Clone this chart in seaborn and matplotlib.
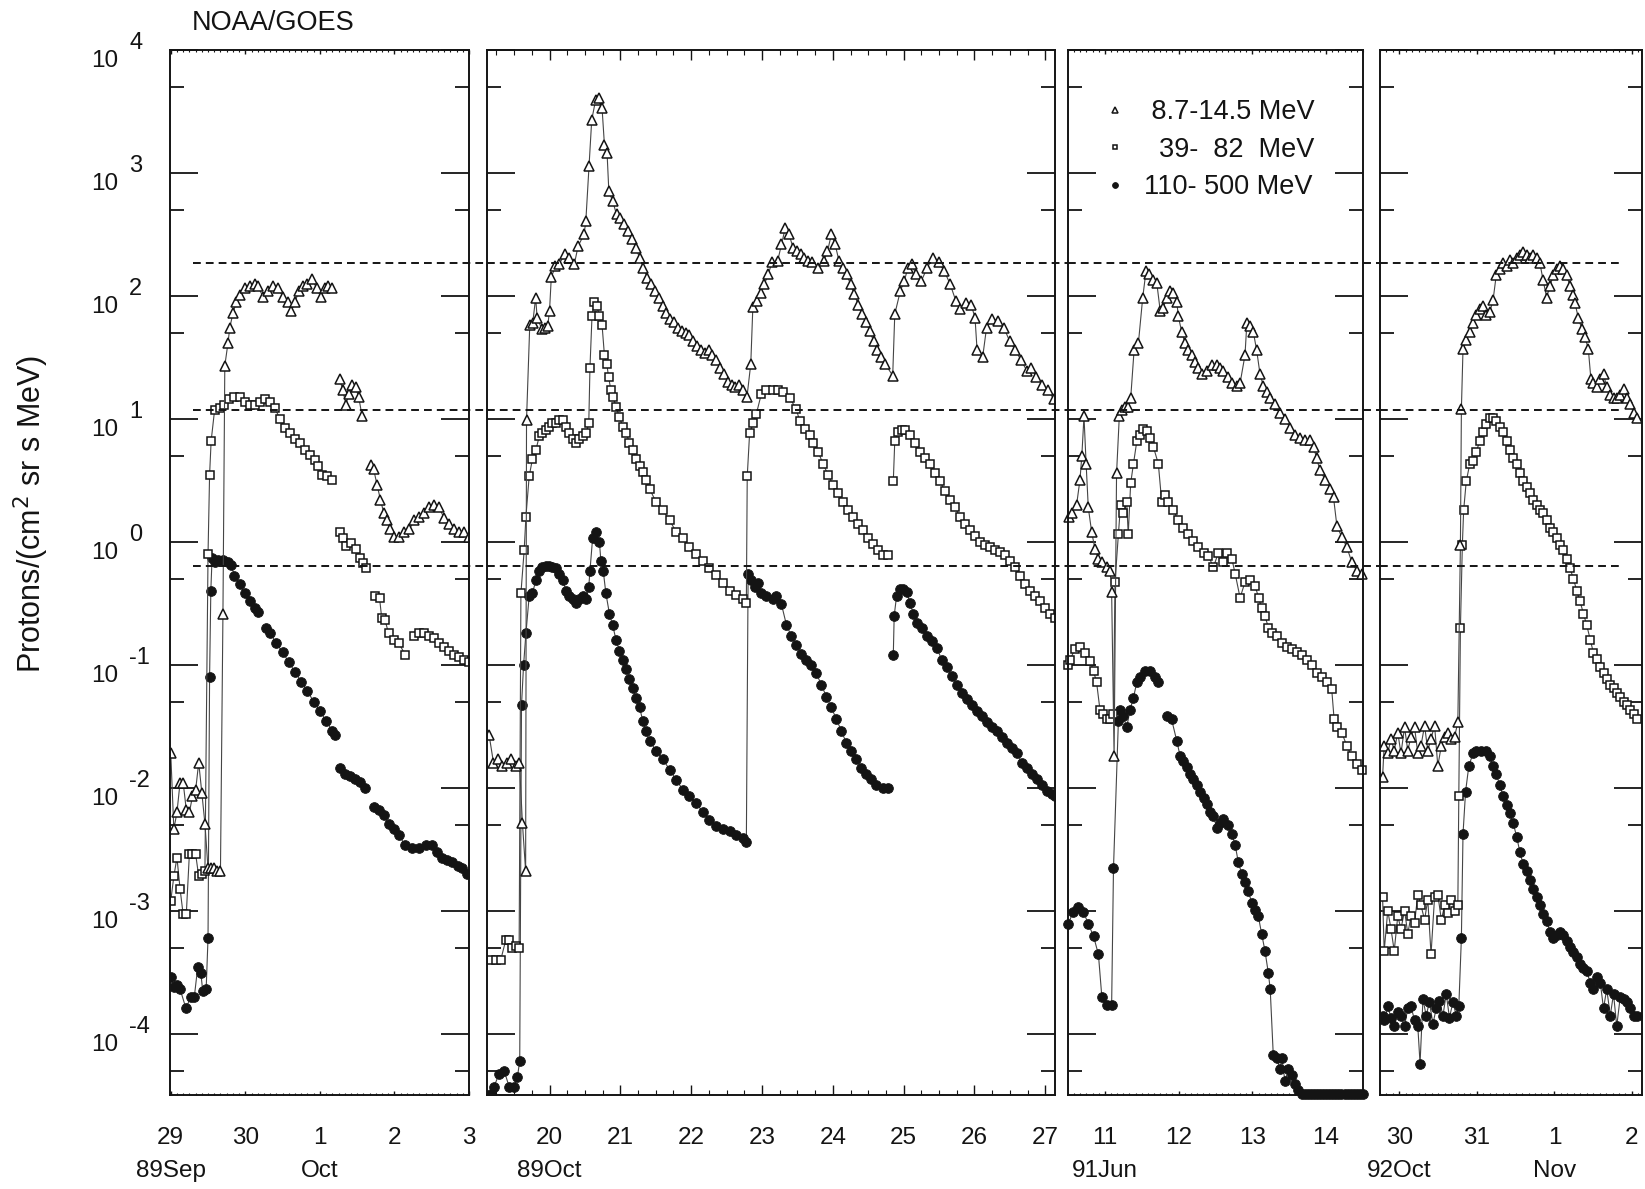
import numpy as np
import pandas as pd
import matplotlib
matplotlib.use("Agg")
import matplotlib.pyplot as plt
import seaborn as sns
from matplotlib.ticker import LogLocator, MultipleLocator, NullFormatter
from matplotlib.lines import Line2D

nan = np.nan

# ---------------- data (hours after panel start day 00 UT, flux) ----------------
channel_labels = [" 8.7-14.5 MeV", "  39-  82  MeV", "110- 500 MeV"]
threshold_levels = [1.85e2, 1.18e1, 6.4e-1]
decade_exponents = [-4, -3, -2, -1, 0, 1, 2, 3, 4]

# Panel 1 : 1989 Sep 29 - Oct 3
p1_day0 = 29
p1_tri_h = [0, 1, 2, 3, 4, 5, 6, 7, 8, 9, 10, 11, 12, 13, 14, 15, 16, 16.8, 17.4, 18.4, 19.0, 20.0, 21.1, 22.2, 23.8,
            25.4, 27.0, 28.1, 29.7, 31.3, 32.9, 34.5, 36.2, 37.8, 38.8, 40.0, 41.2, 42.6, 44.0, 45.5, 47.0, 48.3,
            49.5, 50.7, 52.0, 53.0, 54.4, 55.4, 56.4, 57.3, 58.4, 59.5, 60.5, 61.6, 63.0, 64.4, 65.3, 66.4, 67.5,
            68.6, 69.6, 70.7, 72.0, 73.6, 75.2, 76.8, 78.4, 80.0, 81.6, 83.2, 84.8, 86.4, 88.0, 89.6, 91.2, 92.8,
            94.4, 96.0]
p1_tri_v = [1.9e-2, 4.6e-3, 6.3e-3, 1.1e-2, 1.1e-2, 6.6e-3, 6.3e-3, 8.5e-3, 9.5e-3, 1.6e-2, 9.1e-3, 5.1e-3, 2.2e-3,
            2.2e-3, 2.2e-3, 2.1e-3, 2.1e-3, 0.26, 27, 41, 55, 72, 89, 102, 115, 120, 126, 120, 98, 109, 120, 115, 98,
            89, 76, 89, 109, 120, 126, 137, 115, 98, 115, 120, 115, nan, 21, 17, 13, 16, 19, 18, 15, 10.5, nan, 4.2,
            3.9, 2.9, 2.2, 1.7, 1.5, 1.26, 1.1, 1.1, 1.2, 1.26, 1.5, 1.6, 1.7, 1.9, 2.0, 1.9, 1.55, 1.4, 1.26, 1.2,
            1.2, 1.1]
p1_sq_h = [0, 1, 2, 3, 4, 5, 6, 7, 8, 9, 10, 11, 12.0, 12.5, 13.0, 14.1, 15.7, 17.3, 18.9, 20.5, 22.2, 23.8, 25.4,
           27.0, 28.6, 30.2, 31.8, 33.5, 35.1, 36.7, 38.3, 39.9, 41.5, 43.2, 44.8, 46.4, 47.5, 48.6, 50.2, 51.8,
           53.0, 54.5, 55.6, 56.5, 58.1, 59.7, 60.9, 61.9, 63.0, 64.0, 65.6, 67.2, 67.9, 69.0, 70.1, 71.7, 73.4,
           75.5, 77.0, 78.2, 79.8, 81.5, 83.1, 84.7, 86.3, 87.9, 89.5, 91.2, 92.8, 94.4, 96.0]
p1_sq_v = [1.2e-3, 1.9e-3, 2.7e-3, 1.5e-3, 9.3e-4, 9.3e-4, 2.9e-3, 2.9e-3, 2.9e-3, 1.9e-3, 2.0e-3, 2.1e-3, 0.79, 3.5,
           6.6, 11.7, 12.3, 13, 14.5, 15, 15, 13.8, 13, 13, 13.8, 14.5, 13.8, 12.3, 10, 8.5, 7.7, 6.9, 6.3, 5.6, 5.1,
           4.6, 4.1, 3.5, 3.4, 3.2, nan, 1.2, 1.07, 0.92, 0.97, 0.87, 0.74, 0.67, 0.61, nan, 0.36, 0.35, 0.24, 0.23,
           0.18, 0.16, 0.15, 0.12, nan, 0.17, 0.18, 0.18, 0.17, 0.165, 0.15, 0.14, 0.13, 0.12, 0.115, 0.11, 0.105]
p1_ci_h = [0, 1, 2, 3, 4.9, 6.5, 7.6, 8.7, 9.7, 10.3, 11.4, 12.0, 12.5, 12.9, 13.3, 14.1, 15.2, 16.8, 18.4, 19.4,
           20.5, 22.2, 23.8, 25.4, 27.0, 28.1, 29.5, 30.8, 32, 34, 36, 38, 40, 42, 44, 46, 48, 50, 52, 53, 53.8,
           54.5, 56.1, 57.7, 59.3, 60.9, 62.5, 64.0, 65.3, 66.9, 68.5, 70.1, 71.7, 73.4, 75.5, 77.7, 79.8, 82.0,
           84.2, 85.8, 87.4, 89.0, 90.6, 92.3, 93.9, 95.5]
p1_ci_v = [2.9e-4, 2.4e-4, 2.5e-4, 2.3e-4, 1.6e-4, 2.0e-4, 2.0e-4, 3.5e-4, 3.1e-4, 2.2e-4, 2.3e-4, 6.0e-4, 0.079,
           0.40, 0.74, 0.68, 0.71, 0.71, 0.68, 0.65, 0.53, 0.45, 0.38, 0.33, 0.29, 0.27, nan, 0.20, 0.18, 0.15,
           0.126, 0.105, 0.087, 0.073, 0.061, 0.050, 0.042, 0.035, 0.029, 0.027, nan, 0.0145, 0.013, 0.0124,
           0.0118, 0.0112, 0.0100, nan, 6.9e-3, 6.6e-3, 6.0e-3, 5.1e-3, 4.6e-3, 4.1e-3, 3.4e-3, 3.2e-3, 3.2e-3,
           3.4e-3, 3.4e-3, 3.0e-3, 2.7e-3, 2.6e-3, 2.5e-3, 2.3e-3, 2.2e-3, 2.0e-3]

# Panel 2 : 1989 Oct 19 - 27
p2_day0 = 19
p2_tri_h = [3.5, 5, 6.5, 8, 9.5, 11, 12.5, 13.8, 14.8, 15.9, 16.2, 17.3, 18.3, 19.3, 19.8, 21.4, 22.5, 23.4, 24.0,
            24.6, 26.0, 27.2, 29.2, 30.5, 32.4, 33.7, 35.7, 36.3, 37.4, 38.3, 39.6, 40.9, 41.8, 42.6, 43.5, 44.1,
            45.4, 46.7, 48.0, 49.3, 50.6, 51.9, 53.2, 54.5, 55.8, 57.1, 58.4, 59.7, 61.0, 62.3, 63.6, 64.9, 66.2,
            67.5, 68.8, 70.1, 71.4, 72.7, 74.0, 75.3, 76.6, 77.9, 79.2, 80.5, 81.8, 83.1, 84.4, 85.7, 87.0, 88.3,
            89.6, 90.9, 92.2, 92.9, 94.2, 95.5, 96.8, 98.1, 99.4, 101.3, 102.6, 103.9, 105.2, 106.5, 107.8, 109.1,
            110.4, 111.7, 113.0, 115.0, 116.9, 118.2, 119.5, 120.8, 122.1, 123.4, 124.7, 126.0, 127.3, 128.6, 129.9,
            131.2, 132.5, 133.8, 135.1, 136.4, 137.7, 140.3, 141.0, 142.9, 144.2, 145.5, 146.8, 148.1, 150.0, 152.0,
            154.0, 155.9, 157.8, 159.8, 161.7, 163.0, 165.0, 166.9, 168.2, 168.9, 170.8, 172.1, 174.1, 176.0, 178.0,
            179.9, 181.9, 183.8, 185.8, 187.1, 189.0, 191.0, 192.9, 194.9]
p2_tri_v = [0.027, 0.016, 0.017, 0.015, 0.016, 0.017, 0.015, 0.016, 5.2e-3, 2.1e-3, 9.8, 58, 60, 97, 66, 54, 55, 57,
            76, 142, 174, 181, 218, 205, 181, 255, 316, 406, 1130, 2700, 3900, 4040, 3370, 1700, 1450, 710, 590,
            460, 430, 383, 337, 288, 247, 205, 170, 141, 124, 110, 97, 83, 73, 65, 61, 55, 52, 50, 48, 43, 39, 36,
            34, 36, 33, 30, 26, 23, 20, 19, 18, 19, 17, 15, 28, 81, 91, 106, 124, 150, 187, 192, 262, 357, 316, 247,
            230, 218, 205, 192, 187, 170, 192, 230, 316, 262, 192, 170, 150, 124, 103, 85, 71, 61, 52, 43, 36, 32,
            28, 22.5, 71, 110, 132, 170, 181, 150, 132, 170, 205, 187, 159, 124, 91, 78, 87, 85, 66, 36, 32, 55, 65,
            63, 55, 43, 36, 30, 24.5, 26, 22, 19, 17, 14.5]
p2_sq_h = [4.1, 5.8, 7.5, 9.2, 10.3, 11.4, 12.6, 13.7, 14.3, 15.4, 16.0, 17.1, 18.2, 19.4, 20.5, 21.6, 22.8, 23.9,
           25.0, 26.2, 27.3, 28.4, 29.6, 30.7, 31.8, 33.0, 34.1, 35.2, 36.4, 37.3, 37.7, 38.4, 39.2, 40.0, 40.9,
           41.8, 42.6, 43.4, 44.0, 44.8, 45.6, 46.5, 47.7, 48.8, 50.0, 51.1, 52.2, 53.3, 54.5, 55.6, 56.7, 57.9,
           60.1, 62.4, 64.7, 66.9, 69.2, 71.4, 73.7, 76.0, 78.2, 80.5, 82.8, 85.0, 87.3, 89.6, 90.7, 91.0, 91.8,
           93.0, 94.1, 95.8, 97.5, 99.7, 101.4, 103.1, 105.4, 107.6, 108.8, 110.5, 112.2, 113.3, 115.0, 116.7, 118.4,
           120.1, 121.8, 123.5, 125.2, 126.9, 128.6, 130.3, 132.0, 133.7, 135.4, 137.1, 138.8, 139.6, 140.5, 141.0,
           142.2, 143.3, 144.4, 146.1, 147.8, 149.5, 151.2, 152.9, 154.6, 156.3, 158.0, 159.7, 161.4, 163.1, 164.8,
           166.5, 168.2, 169.9, 171.6, 173.3, 175.0, 176.7, 178.4, 180.1, 181.8, 183.5, 185.2, 186.9, 188.6, 190.3,
           192.0, 193.7, 195.3]
p2_sq_v = [4.0e-4, 4.0e-4, 4.0e-4, 5.8e-4, 5.8e-4, 5.0e-4, 5.2e-4, 5.0e-4, 0.38, 0.85, 1.6, 3.4, 4.7, 5.6, 7.2, 7.6,
           8.1, 8.6, 9.2, 9.2, 9.7, 9.7, 8.6, 7.6, 6.8, 6.4, 6.8, 7.2, 7.6, 9.2, 26, 69, 89, 83, 69, 58, 33, 28, 22,
           17, 15, 12.5, 10.4, 8.6, 7.6, 6.4, 5.6, 4.7, 4.1, 3.7, 3.2, 2.7, 2.1, 1.8, 1.5, 1.2, 1.07, 0.90, 0.79,
           0.70, 0.61, 0.54, 0.46, 0.40, 0.37, 0.34, 0.32, 3.4, 7.6, 9.2, 11, 16, 17, 17, 17, 16.5, 14.8, 12, 9.6,
           8.2, 7.4, 6.3, 5.4, 4.3, 3.5, 2.9, 2.5, 2.1, 1.8, 1.6, 1.4, 1.25, 1.07, 0.96, 0.86, 0.78, 0.78, nan, 3.1,
           6.6, 7.8, 8.1, 8.1, 7.4, 6.3, 5.4, 4.8, 4.3, 3.6, 3.1, 2.6, 2.2, 1.9, 1.6, 1.4, 1.25, 1.12, 1.0, 0.95,
           0.91, 0.86, 0.82, 0.78, 0.70, 0.62, 0.53, 0.45, 0.40, 0.36, 0.33, 0.29, 0.26, 0.24]
p2_ci_h = [4.1, 5.2, 6.9, 8.6, 10.3, 12.0, 13.1, 13.9, 14.5, 15.2, 16.0, 17.1, 18.2, 19.4, 20.5, 21.6, 22.8, 23.9,
           25.0, 26.2, 27.3, 28.4, 29.6, 30.7, 31.8, 33.0, 34.1, 35.2, 36.4, 37.3, 37.7, 38.6, 39.7, 40.9, 41.4,
           42.2, 43.1, 44.3, 45.4, 46.5, 47.7, 48.8, 50.0, 51.1, 52.2, 53.3, 54.5, 55.6, 56.7, 57.9, 60.1, 62.4,
           64.7, 66.9, 69.2, 71.4, 73.7, 76.0, 78.2, 80.5, 82.8, 85.0, 87.3, 89.6, 90.7, 91.3, 92.4, 93.5, 94.6,
           95.8, 97.5, 99.7, 100.9, 102.6, 104.3, 106.0, 107.6, 109.3, 111.0, 112.7, 114.4, 116.1, 117.8, 119.5,
           121.2, 122.9, 124.6, 126.3, 128.0, 129.7, 131.4, 133.1, 134.8, 137.1, 138.8, 139.6, 140.5, 140.8, 141.6,
           142.7, 143.9, 145.0, 146.1, 147.3, 148.4, 150.1, 151.8, 153.5, 155.2, 156.9, 158.6, 160.3, 162.0, 163.7,
           165.4, 167.1, 168.8, 170.5, 172.2, 173.9, 175.6, 177.3, 179.0, 180.7, 182.4, 184.1, 185.8, 187.5, 189.2,
           190.9, 192.6, 194.3, 195.3]
p2_ci_v = [3.2e-5, 3.7e-5, 4.7e-5, 5.0e-5, 3.7e-5, 3.7e-5, 4.4e-5, 6.0e-5, 0.047, 0.099, 0.18, 0.36, 0.38, 0.49,
           0.58, 0.62, 0.63, 0.63, 0.62, 0.61, 0.55, 0.49, 0.40, 0.36, 0.34, 0.32, 0.34, 0.36, 0.34, 0.43, 0.58,
           1.07, 1.2, 1.0, 0.70, 0.58, 0.38, 0.26, 0.21, 0.16, 0.13, 0.11, 0.093, 0.077, 0.065, 0.054, 0.045, 0.035,
           0.029, 0.024, 0.020, 0.017, 0.014, 0.0116, 9.6e-3, 8.5e-3, 7.5e-3, 6.3e-3, 5.5e-3, 4.9e-3, 4.6e-3,
           4.4e-3, 4.1e-3, 3.9e-3, 3.6e-3, 0.55, 0.49, 0.43, 0.46, 0.38, 0.36, 0.34, 0.36, 0.31, 0.21, 0.17, 0.145,
           0.123, 0.11, 0.10, 0.085, 0.069, 0.055, 0.045, 0.036, 0.029, 0.023, 0.020, 0.017, 0.0144, 0.0129, 0.0117,
           0.0105, 0.010, 0.010, nan, 0.12, 0.25, 0.36, 0.41, 0.41, 0.39, 0.32, 0.26, 0.22, 0.20, 0.17, 0.155, 0.138,
           0.11, 0.095, 0.081, 0.069, 0.059, 0.053, 0.047, 0.042, 0.038, 0.034, 0.031, 0.029, 0.026, 0.023, 0.021,
           0.019, 0.016, 0.0145, 0.013, 0.0117, 0.0105, 9.4e-3, 8.9e-3, 8.5e-3]

# Panel 3 : 1991 Jun 10.5 - 14.5
p3_day0 = 10
p3_tri_h = [12.2, 13.2, 14.8, 15.9, 16.5, 17.2, 17.9, 18.6, 19.7, 20.8, 21.9, 23.0, 24.6, 25.7, 26.2, 27.0, 27.8,
            28.7, 29.5, 30.6, 31.6, 32.4, 33.5, 34.9, 36.3, 37.4, 38.5, 39.8, 40.9, 42.0, 43.0, 44.1, 45.2, 46.3,
            47.4, 47.9, 49.0, 50.1, 51.2, 52.3, 53.3, 54.4, 55.5, 57.1, 58.8, 60.4, 61.5, 62.6, 64.2, 65.3, 66.9,
            68.0, 69.6, 70.2, 71.2, 72.3, 73.4, 74.5, 75.6, 76.7, 77.8, 79.4, 81.0, 82.6, 84.3, 85.9, 87.5, 89.1,
            90.8, 91.9, 92.9, 94.0, 95.7, 97.3, 98.4, 99.5, 101.1, 102.7, 104.3, 106.0, 107.6]
p3_tri_v = [1.6, 1.7, 2.0, 3.2, 5.0, 10.5, 4.3, 1.9, 1.2, 0.87, 0.73, 0.69, 0.62, 0.58, 0.39, 0.018, 3.6, 10.5, 11.8,
            12.4, 12.4, 14.7, 36, 41, 96, 160, 150, 134, 127, 76, 80, 96, 110, 105, 90, 68, 51, 41, 36, 33, 29, 26,
            23, 24.5, 27.5, 27.5, 26, 24.5, 22, 19.5, 18.5, 19.5, 33, 60, 57, 51, 36, 23, 18.5, 16.5, 14.8, 13.2,
            11.2, 10, 8.4, 7.4, 7.0, 6.7, 6.7, 5.9, 4.8, 3.8, 3.2, 2.7, 2.3, 1.35, 1.09, 0.91, 0.69, 0.58, 0.55]
p3_sq_h = [12.1, 12.7, 14.3, 15.9, 17.5, 19.2, 20.3, 21.3, 22.4, 23.5, 24.6, 25.7, 26.8, 27.3, 28.4, 29.1, 30.0,
           31.1, 31.6, 32.4, 33.3, 34.4, 35.4, 36.5, 37.6, 38.7, 39.8, 41.4, 42.5, 43.6, 44.7, 46.3, 47.9, 49.5,
           51.2, 52.8, 54.4, 56.1, 57.7, 59.3, 60.9, 62.6, 63.7, 65.3, 66.4, 68.0, 69.6, 71.2, 72.9, 74.0, 75.0,
           76.1, 77.2, 78.3, 79.9, 81.6, 83.2, 84.8, 86.4, 88.1, 89.7, 91.3, 92.9, 94.6, 96.2, 97.8, 98.6, 99.5,
           101.1, 102.7, 104.3, 106.0, 107.6]
p3_sq_v = [0.10, 0.11, 0.135, 0.14, 0.125, 0.107, 0.089, 0.072, 0.043, 0.040, 0.036, 0.036, 0.040, 0.47, 1.15, 2.0,
           1.7, 2.1, 1.15, 3.0, 4.3, 6.6, 7.4, 8.3, 7.9, 7.0, 5.9, 4.3, 2.1, 2.4, 2.1, 1.8, 1.5, 1.3, 1.15, 1.02,
           0.91, 0.81, 0.77, 0.62, 0.81, 0.69, 0.81, 0.73, 0.55, 0.35, 0.47, 0.49, 0.44, 0.35, 0.29, 0.25, 0.20,
           0.18, 0.17, 0.15, 0.14, 0.135, 0.126, 0.12, 0.11, 0.10, 0.085, 0.08, 0.072, 0.064, 0.036, 0.031, 0.028,
           0.022, 0.018, 0.0155, 0.0138]
p3_ci_h = [12.1, 13.7, 15.4, 17.0, 18.6, 20.3, 21.9, 23.0, 24.6, 26.2, 26.8, 28.4, 28.9, 30.0, 31.1, 32.2, 33.3,
           34.4, 35.4, 37.1, 38.7, 40.3, 41.4, 42.8, 44.1, 45.7, 47.4, 48.5, 49.5, 50.6, 51.7, 52.8, 53.9, 55.0,
           56.1, 57.1, 58.2, 59.3, 60.4, 61.5, 62.6, 64.2, 65.3, 66.4, 67.4, 68.5, 69.6, 70.7, 71.8, 72.9, 73.9,
           75.0, 76.1, 77.2, 77.8, 78.8, 79.9, 81.0, 81.6, 82.6, 83.7, 84.8, 85.9, 87.0, 88, 89, 90, 91, 92, 93, 94,
           95, 96, 97, 98, 99, 100, 101, 102, 103, 104, 105, 106, 107, 108]
p3_ci_v = [7.8e-4, 9.8e-4, 1.07e-3, 9.8e-4, 7.8e-4, 6.2e-4, 4.4e-4, 2.0e-4, 1.7e-4, 1.7e-4, 2.2e-3, 0.035, 0.043,
           0.038, 0.031, 0.043, 0.054, 0.072, 0.080, 0.089, 0.089, 0.080, 0.072, nan, 0.038, 0.036, 0.024, 0.018,
           0.0165, 0.0147, 0.013, 0.0117, 0.0105, 9.3e-3, 8.3e-3, 7.4e-3, 6.3e-3, 5.9e-3, 4.7e-3, 5.2e-3, 5.6e-3,
           5.0e-3, 4.2e-3, 3.4e-3, 2.5e-3, 2.0e-3, 1.7e-3, 1.44e-3, 1.15e-3, 1.02e-3, 9.1e-4, 6.5e-4, 4.7e-4,
           3.1e-4, 2.3e-4, 6.7e-5, 6.3e-5, 5.1e-5, 6.3e-5, 4.1e-5, 5.1e-5, 4.6e-5, 3.9e-5, 3.5e-5, 3.2e-5, 3.2e-5,
           3.2e-5, 3.2e-5, 3.2e-5, 3.2e-5, 3.2e-5, 3.2e-5, 3.2e-5, 3.2e-5, 3.2e-5, 3.2e-5, 3.2e-5, 3.2e-5, 3.2e-5,
           3.2e-5, 3.2e-5, 3.2e-5, 3.2e-5, 3.2e-5, 3.2e-5]

# Panel 4 : 1992 Oct 29.75 - Nov 2.1 (hours after Oct 30 00 UT)
p4_day0 = 30
p4_tri_h = [-5.2, -4.7, -3.6, -2.6, -1.6, -0.5, 0.5, 1.6, 2.6, 3.6, 4.7, 5.7, 6.7, 7.8, 8.8, 9.8, 10.9, 11.9, 13.0,
            14.0, 15.0, 16.1, 17.1, 18.1, 18.9, 19.2, 19.7, 20.7, 21.8, 22.8, 23.8, 24.9, 25.9, 26.9, 28.0, 29.0,
            30.0, 31.1, 32.1, 33.2, 34.2, 35.2, 36.3, 37.3, 38.3, 39.4, 40.4, 41.4, 42.5, 43.5, 44.5, 45.6, 46.6,
            47.7, 48.7, 49.7, 50.8, 51.8, 52.8, 53.9, 54.4, 55.4, 56.5, 57.5, 58.5, 59.3, 60.1, 61.1, 62.2, 63.2,
            64.2, 65.3, 66.3, 67.3, 68.4, 69.4, 70.4, 71.5, 72.5, 73.6]
p4_tri_v = [0.0123, 0.022, 0.019, 0.025, 0.020, 0.028, 0.019, 0.031, 0.020, 0.026, 0.031, 0.019, 0.022, 0.032, 0.020,
            0.025, 0.032, 0.015, 0.022, 0.026, 0.028, 0.025, 0.026, 0.034, 0.95, 12, 37, 44, 51, 60, 70, 78, 83, 70,
            74, 92, 148, 166, 185, 175, 195, 185, 205, 217, 229, 217, 205, 217, 205, 185, 134, 97, 120, 148, 166,
            175, 166, 148, 120, 102, 87, 66, 54, 46, 37, 21, 19.5, 18.3, 21, 23, 18.3, 15.6, 14.8, 14.8, 15.6, 17.4,
            14.8, 13.2, 11.2, 10.2]
p4_sq_h = [-5.2, -4.7, -3.6, -2.6, -1.6, -0.5, 0.5, 1.6, 2.6, 3.6, 4.7, 5.7, 6.7, 7.8, 8.8, 9.8, 10.9, 11.9, 13.0,
           14.0, 15.0, 16.1, 17.1, 18.1, 18.4, 18.9, 19.5, 19.9, 20.7, 21.8, 22.8, 23.8, 24.9, 25.9, 26.9, 28.0,
           29.0, 30.0, 31.1, 32.1, 33.2, 34.2, 35.2, 36.3, 37.3, 38.3, 39.4, 40.4, 41.4, 42.5, 43.5, 44.5, 45.6,
           46.6, 47.7, 48.7, 49.7, 50.8, 51.8, 52.8, 53.9, 54.9, 55.9, 57.0, 58.0, 59.1, 60.1, 61.1, 62.2, 63.2,
           64.2, 65.3, 66.3, 67.3, 68.4, 69.4, 70.4, 71.5, 72.5, 73.6]
p4_sq_v = [1.29e-3, 4.7e-4, 1.0e-3, 7.1e-4, 4.7e-4, 9.0e-4, 7.1e-4, 1.0e-3, 6.5e-4, 9.0e-4, 7.9e-4, 1.35e-3, 1.1e-3,
           8.4e-4, 1.23e-3, 4.4e-4, 1.29e-3, 1.35e-3, 8.4e-4, 1.1e-3, 9.5e-4, 1.23e-3, 1.0e-3, 1.1e-3, 8.5e-3,
           0.20, 0.95, 1.8, 3.1, 4.3, 4.5, 5.4, 6.6, 7.8, 9.1, 10.2, 10.2, 9.6, 8.6, 7.8, 6.6, 5.6, 4.8, 4.3, 3.6,
           3.1, 2.8, 2.5, 2.2, 2.0, 1.8, 1.7, 1.5, 1.3, 1.2, 1.07, 0.95, 0.85, 0.72, 0.61, 0.50, 0.40, 0.33, 0.26,
           0.21, 0.16, 0.124, 0.111, 0.095, 0.085, 0.076, 0.069, 0.065, 0.059, 0.055, 0.050, 0.047, 0.043, 0.040,
           0.036]
p4_ci_h = [-5.2, -4.7, -3.6, -2.6, -1.6, -0.5, 0.5, 1.6, 2.6, 3.6, 4.7, 5.7, 6.4, 7.3, 8.3, 9.3, 10.4, 11.4, 12.4,
           13.5, 14.5, 15.5, 16.6, 17.6, 18.4, 19.2, 19.7, 20.5, 21.5, 22.8, 23.8, 25.4, 26.9, 28.0, 29.0, 30.0,
           31.1, 32.1, 33.2, 34.2, 35.2, 36.3, 37.3, 38.3, 39.4, 40.4, 41.4, 42.5, 43.5, 44.5, 45.6, 46.6, 47.7,
           48.7, 49.7, 50.8, 51.8, 52.8, 53.9, 54.9, 55.9, 57.0, 58.0, 59.1, 60.1, 61.1, 62.2, 63.2, 64.2, 65.3,
           66.3, 67.3, 68.4, 69.4, 70.4, 71.5, 72.5, 73.6]
p4_ci_v = [1.4e-4, 1.28e-4, 1.66e-4, 1.35e-4, 1.15e-4, 1.5e-4, 1.4e-4, 1.15e-4, 1.6e-4, 1.66e-4, 1.28e-4, 1.15e-4,
           5.7e-5, 1.9e-4, 1.4e-4, 1.8e-4, 1.2e-4, 1.6e-4, 1.85e-4, 1.4e-4, 2.1e-4, 1.35e-4, 1.8e-4, 1.4e-4,
           1.66e-4, 6.0e-4, 4.2e-3, 9.3e-3, 0.015, 0.019, 0.020, 0.020, 0.020, 0.018, 0.015, 0.0129, 0.0105, 8.5e-3,
           7.2e-3, 6.2e-3, 5.2e-3, 4.0e-3, 3.0e-3, 2.4e-3, 2.1e-3, 1.78e-3, 1.5e-3, 1.29e-3, 1.1e-3, 9.3e-4, 8.3e-4,
           6.7e-4, 6.0e-4, 6.3e-4, 6.7e-4, 6.3e-4, 5.7e-4, 5.1e-4, 4.6e-4, 4.2e-4, 3.7e-4, 3.4e-4, 3.2e-4, 2.6e-4,
           2.3e-4, 2.9e-4, 2.6e-4, 1.6e-4, 2.3e-4, 1.4e-4, 2.1e-4, 1.15e-4, 2.0e-4, 1.9e-4, 1.8e-4, 1.6e-4,
           1.4e-4, 1.4e-4]

# panel layout definitions (time axis in days of month)
panels = [
    dict(day0=p1_day0, xlim=(28.99, 33.0), ticks=[29, 30, 31, 32, 33], labels=["29", "30", "1", "2", "3"],
         sub={29: "89Sep", 31: "Oct"}, minor=1 / 12, data=[(p1_ci_h, p1_ci_v), (p1_sq_h, p1_sq_v), (p1_tri_h, p1_tri_v)]),
    dict(day0=p2_day0, xlim=(19.117, 27.1375), ticks=list(range(20, 28)), labels=[str(d) for d in range(20, 28)],
         sub={20: "89Oct"}, minor=0.25, data=[(p2_ci_h, p2_ci_v), (p2_sq_h, p2_sq_v), (p2_tri_h, p2_tri_v)]),
    dict(day0=p3_day0, xlim=(10.5, 14.5), ticks=[11, 12, 13, 14], labels=["11", "12", "13", "14"],
         sub={11: "91Jun"}, minor=1 / 12, data=[(p3_ci_h, p3_ci_v), (p3_sq_h, p3_sq_v), (p3_tri_h, p3_tri_v)]),
    dict(day0=p4_day0, xlim=(29.75, 33.13), ticks=[30, 31, 32, 33], labels=["30", "31", "1", "2"],
         sub={30: "92Oct", 32: "Nov"}, minor=1 / 12, data=[(p4_ci_h, p4_ci_v), (p4_sq_h, p4_sq_v), (p4_tri_h, p4_tri_v)]),
]

# ---------------- style ----------------
sns.set_theme(style="ticks")
plt.rcParams["font.family"] = ["Liberation Sans", "DejaVu Sans"]

INK = "#141414"
LINE = "#454545"
FS = 17.5
marker_styles = [
    dict(marker="o", markersize=7.0, markerfacecolor=INK, markeredgecolor=INK, markeredgewidth=0.6),
    dict(marker="s", markersize=6.0, markerfacecolor="white", markeredgecolor=INK, markeredgewidth=1.1),
    dict(marker="^", markersize=7.8, markerfacecolor="white", markeredgecolor=INK, markeredgewidth=1.1),
]

W, H = 1645, 1189
fig = plt.figure(figsize=(W / 100, H / 100), dpi=100)
fig.patch.set_facecolor("white")

px_x = [(170, 469), (487, 1055), (1068, 1363), (1380, 1642)]
top_px, bot_px = 50, 1095
dash_span = [(0.077, 1.06), (0.0, 1.023), (0.0, 1.058), (0.0, 0.927)]

axes = []
for i, (p, (x0, x1)) in enumerate(zip(panels, px_x)):
    ax = fig.add_axes([x0 / W, 1 - bot_px / H, (x1 - x0) / W, (bot_px - top_px) / H])
    ax.set_facecolor("white")
    ax.set_yscale("log")
    ax.set_ylim(10 ** -4.5, 1e4)
    ax.set_xlim(*p["xlim"])
    for (hrs, vals), st in zip(p["data"], marker_styles):
        v = np.asarray(vals, dtype=float)
        t = p["day0"] + np.asarray(hrs, dtype=float) / 24.0
        seg = np.cumsum(np.isnan(v))
        df = pd.DataFrame({"t": t, "v": v, "seg": seg}).dropna()
        sns.lineplot(data=df, x="t", y="v", units="seg", estimator=None, sort=False, ax=ax,
                     color=LINE, linewidth=0.8, legend=False, clip_on=(i != 2), **st)
    for lvl in threshold_levels:
        ax.axhline(lvl, xmin=dash_span[i][0], xmax=dash_span[i][1], color=INK, lw=1.4,
                   ls=(0, (4, 2.6)), clip_on=False, zorder=5)
    for s in ax.spines.values():
        s.set_color(INK)
        s.set_linewidth(1.4)
    ax.set_xlabel("")
    ax.set_ylabel("")
    ax.yaxis.set_major_locator(LogLocator(base=10, numticks=20))
    ax.yaxis.set_minor_locator(LogLocator(base=10, subs=[5.0], numticks=20))
    ax.yaxis.set_minor_formatter(NullFormatter())
    ax.set_ylim(10 ** -4.5, 1e4)
    ax.set_xticks(p["ticks"])
    ax.set_xticklabels(p["labels"])
    ax.xaxis.set_minor_locator(MultipleLocator(p["minor"]))
    ax.tick_params(axis="y", which="major", direction="in", length=20, width=1.3, left=True, right=True,
                   colors=INK, labelleft=False)
    ax.tick_params(axis="y", which="minor", direction="in", length=10, width=1.3, left=True, right=True,
                   colors=INK)
    xl = 7 if i == 1 else 3
    ax.tick_params(axis="x", which="major", direction="in", length=xl, width=1.0, top=True, bottom=True,
                   colors=INK, labelsize=FS, pad=23)
    ax.tick_params(axis="x", which="minor", direction="in", length=xl / 2, width=0.8, top=True, bottom=True,
                   colors=INK)
    for tk, txt in p["sub"].items():
        ax.annotate(txt, xy=(tk, 0), xycoords=("data", "axes fraction"), xytext=(0, -46.5),
                    textcoords="offset points", ha="center", va="top", fontsize=FS, color=INK,
                    annotation_clip=False)
    axes.append(ax)

# decade labels of the shared flux axis: "10" with a full-size raised exponent
ax0 = axes[0]
for e in decade_exponents:
    ax0.annotate("10", xy=(0, 10.0 ** e), xycoords=("axes fraction", "data"), xytext=(-56.5, -8.0),
                 textcoords="offset points", ha="left", va="center", fontsize=FS, color=INK,
                 annotation_clip=False)
    ax0.annotate(str(e), xy=(0, 10.0 ** e), xycoords=("axes fraction", "data"), xytext=(-29.5, 5.0),
                 textcoords="offset points", ha="left", va="center", fontsize=FS - 0.5, color=INK,
                 annotation_clip=False)

# legend in third panel
handles = [Line2D([], [], linestyle="none", **marker_styles[2]),
           Line2D([], [], linestyle="none", **marker_styles[1]),
           Line2D([], [], linestyle="none", **marker_styles[0])]
leg = axes[2].legend(handles, channel_labels, loc="upper left", bbox_to_anchor=(0.115, 0.953),
                     frameon=False, fontsize=19.5, markerscale=0.6, handlelength=1.0, handletextpad=0.55,
                     labelspacing=0.43, borderaxespad=0, borderpad=0)
for t in leg.get_texts():
    t.set_color(INK)

fig.text(192 / W, 1 - 23 / H, "NOAA/GOES", ha="left", va="center", fontsize=19.5, color=INK)
fig.text(31.5 / W, 1 - 514 / H, "Protons/(cm$^2$ sr s MeV)", rotation=90, ha="center", va="center",
         fontsize=22, color=INK)

fig.savefig("out.png", dpi=100, facecolor="white")
